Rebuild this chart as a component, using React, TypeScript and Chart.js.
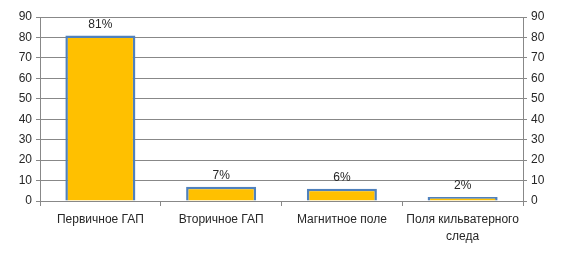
import React, { useEffect, useRef } from "react";
import { Chart, registerables } from "chart.js";
Chart.register(...registerables);

const categories: (string | string[])[] = ["Первичное ГАП", "Вторичное ГАП", "Магнитное поле", ["Поля кильватерного", "следа"]];
const values = [81, 7, 6, 2];
const valueLabels = ["81%", "7%", "6%", "2%"];

const FONT = "'Liberation Sans', Arial, sans-serif";
const GRID = "#888888";
const TEXT = "#262626";

const labelPlugin = {
  id: "barLabels",
  afterDatasetsDraw(chart: any) {
    const meta = chart.getDatasetMeta(0);
    const ctx = chart.ctx;
    ctx.save();
    ctx.font = `12px ${FONT}`;
    ctx.fillStyle = TEXT;
    ctx.textAlign = "center";
    ctx.textBaseline = "bottom";
    meta.data.forEach((el: any, i: number) => {
      ctx.fillText(valueLabels[i], el.x, el.y - 5);
    });
    ctx.restore();
  },
};

export default function App() {
  const ref = useRef<HTMLCanvasElement>(null);
  useEffect(() => {
    document.body.style.margin = "0";
    const chart = new Chart(ref.current!, {
      type: "bar",
      data: {
        labels: categories,
        datasets: [
          {
            data: values,
            backgroundColor: "#FFC000",
            borderColor: "#4F81BD",
            borderWidth: 2.5,
            categoryPercentage: 1,
            barPercentage: 0.58,
            yAxisID: "y",
          },
        ],
      },
      options: {
        responsive: false,
        animation: false,
        layout: { padding: { top: 17, bottom: 0, left: 0, right: 0 } },
        plugins: { legend: { display: false }, tooltip: { enabled: false } },
        scales: {
          x: {
            offset: true,
            grid: { offset: true, drawOnChartArea: false, tickLength: 5, color: GRID },
            border: { color: GRID },
            ticks: { color: TEXT, font: { family: FONT, size: 12, lineHeight: 1.4 }, padding: 5, maxRotation: 0, autoSkip: false },
            afterFit: (s: any) => { s.height = 62; },
          },
          y: {
            position: "left",
            min: 0,
            max: 90,
            ticks: { stepSize: 10, color: TEXT, font: { family: FONT, size: 12 }, padding: 4 },
            grid: { color: GRID, tickLength: 4 },
            border: { color: GRID },
            afterFit: (s: any) => { s.width = 40; },
          },
          y2: {
            position: "right",
            min: 0,
            max: 90,
            ticks: { stepSize: 10, color: TEXT, font: { family: FONT, size: 12 }, padding: 4 },
            grid: { drawOnChartArea: false, color: GRID, tickLength: 4 },
            border: { color: GRID },
            afterFit: (s: any) => { s.width = 40; },
          },
        },
      },
      plugins: [labelPlugin],
    });
    return () => chart.destroy();
  }, []);
  return <canvas ref={ref} width={563} height={263} style={{ display: "block" }} />;
}
